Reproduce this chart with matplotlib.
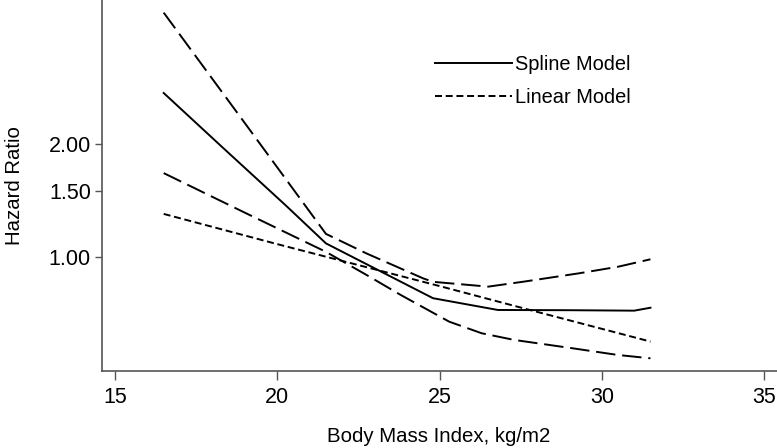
import matplotlib.pyplot as plt
from matplotlib.ticker import FixedLocator, NullLocator

plt.rcParams["font.family"] = ["Liberation Sans", "DejaVu Sans"]

# Body mass index values (kg/m2) and hazard ratios
bmi_spline = [16.5, 18.3, 20.3, 21.5, 24.8, 26.8, 29.0, 31.0, 31.5]
hr_spline = [2.73, 1.96, 1.36, 1.085, 0.775, 0.721, 0.72, 0.718, 0.731]

bmi_upper = [16.5, 19.0, 21.5, 22.75, 24.5, 24.8, 26.5, 27.6, 29.3, 30.5, 31.5]
hr_upper = [4.47, 2.27, 1.15, 1.02, 0.875, 0.857, 0.832, 0.858, 0.903, 0.94,
            0.984]

bmi_lower = [16.5, 19.0, 21.5, 22.75, 23.8, 25.3, 26.3, 27.3, 29.1, 30.5, 31.5]
hr_lower = [1.67, 1.31, 1.03, 0.894, 0.791, 0.671, 0.625, 0.60, 0.57, 0.547,
            0.536]

bmi_linear = [16.5, 20.0, 25.0, 27.6, 31.5]
hr_linear = [1.30, 1.08, 0.835, 0.728, 0.594]

y_ticks = [1.0, 1.5, 2.0]
x_ticks = [15, 20, 25, 30, 35]

fig = plt.figure(figsize=(7.77, 4.48), dpi=100)
ax = fig.add_axes([0.1313, 0.172, 0.8687, 0.828])

long_dash = (0, (10, 3.5))
short_dash = (0, (3.6, 1.9))

ax.plot(bmi_upper, hr_upper, color="black", lw=1.4, linestyle=long_dash)
ax.plot(bmi_lower, hr_lower, color="black", lw=1.4, linestyle=long_dash)
ax.plot(bmi_spline, hr_spline, color="black", lw=1.4, label="Spline Model")
ax.plot(bmi_linear, hr_linear, color="black", lw=1.4, linestyle=short_dash,
        label="Linear Model")

ax.set_yscale("log")
ax.set_xlim(14.6, 35.4)
ax.set_ylim(0.496, 4.83)
ax.yaxis.set_major_locator(FixedLocator(y_ticks))
ax.yaxis.set_minor_locator(NullLocator())
ax.set_yticklabels([f"{v:.2f}" for v in y_ticks])
ax.set_xticks(x_ticks)

for side in ["top", "right"]:
    ax.spines[side].set_visible(False)
for side in ["left", "bottom"]:
    ax.spines[side].set_color("#555555")
    ax.spines[side].set_linewidth(1.2)

ax.tick_params(axis="y", length=5, width=1, color="#555555", pad=3,
               labelsize=15.5)
ax.tick_params(axis="x", length=6.5, width=1, color="#555555", pad=5,
               labelsize=15.5)

ax.set_xlabel("Body Mass Index, kg/m2", fontsize=14.7, va="center")
ax.xaxis.set_label_coords(0.498, -0.178)
ax.set_ylabel("Hazard Ratio", fontsize=14.7, va="center")
ax.yaxis.set_label_coords(-0.13, 0.5)

leg = ax.legend(loc="upper left", bbox_to_anchor=(0.478, 0.879), frameon=False,
                fontsize=14.4, handlelength=3.85, handletextpad=0.15,
                labelspacing=0.72, borderpad=0)

fig.savefig("out.png", dpi=100)
